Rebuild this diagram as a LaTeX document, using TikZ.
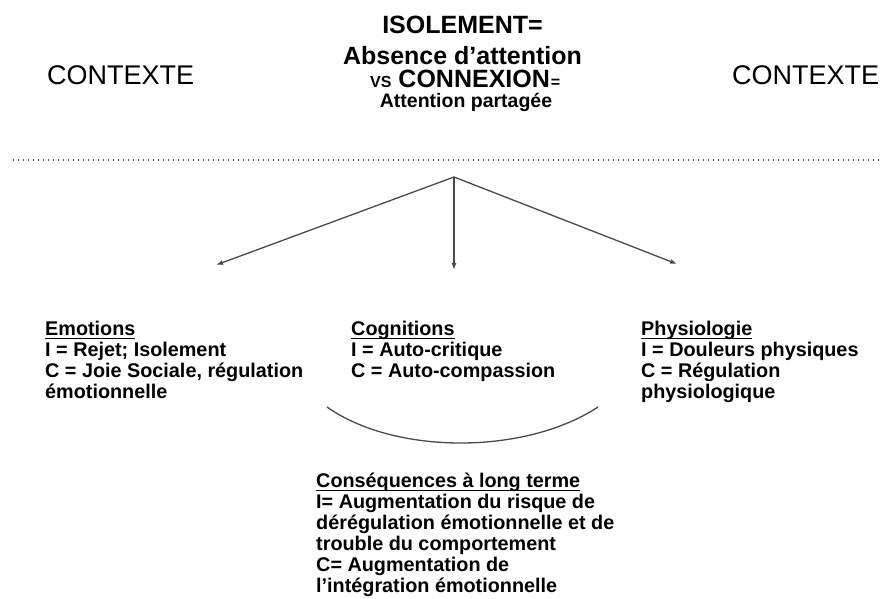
\documentclass[tikz,border=0pt]{standalone}
\usepackage{fontspec}
\setmainfont{Liberation Sans}
\newcommand\myul[1]{\setbox0\hbox{#1}\rlap{\rule[-3.8pt]{\wd0}{1.2pt}}\box0}
\usetikzlibrary{arrows.meta}
\definecolor{linegray}{HTML}{4A4A4A}
\tikzset{
  txt/.style={inner sep=0pt, anchor=base west, font=\bfseries\fontsize{19.8}{21}\selectfont},
  ttl/.style={inner sep=0pt, anchor=base, font=\bfseries\fontsize{25}{25}\selectfont},
  ctx/.style={inner sep=0pt, anchor=base west, font=\fontsize{27}{27}\selectfont},
  conn/.style={draw=linegray, line width=1.3pt, -{Latex[length=7pt,width=5pt]}},
  sep/.style={draw=linegray, line width=1.3pt, dash pattern=on 1.3pt off 3.7pt},
  arcline/.style={draw=linegray, line width=1.3pt}
}
\begin{document}
\begin{tikzpicture}[x=1pt,y=-1pt]
\useasboundingbox (0,0) rectangle (883,599);
% title
\node[ttl] (t1) at (462.5,34) {ISOLEMENT=};
\node[ttl] (t2) at (462.5,65) {Absence d’attention};
\node[inner sep=0pt, anchor=base west, font=\bfseries, text depth=0pt] (t3) at (370,88)
  {{\fontsize{16}{16}\selectfont VS}{\fontsize{25}{25}\selectfont\ CONNEXION}\kern1pt{\fontsize{16}{16}\selectfont =}};
\node[ttl, font=\bfseries\fontsize{19.5}{19.5}\selectfont, text height=12pt] (t4) at (466,108) {Attention partagée};
% context
\node[ctx] (cl) at (47,85) {CONTEXTE};
\node[ctx] (cr) at (732,85) {CONTEXTE};
% separator
\coordinate (sl) at (13,160);
\coordinate (sr) at (883,160);
\draw[sep] (sl) -- (sr);
% arrows
\coordinate (o) at (454,177);
\coordinate (el) at (216,265);
\coordinate (ec) at (454,270);
\coordinate (er) at (677,264);
\draw[conn] (o) -- (el);
\draw[conn] (o) -- (ec);
\draw[conn] (o) -- (er);
% emotions
\node[txt] (e1) at (45,335) {\myul{Emotions}};
\node[txt] (e2) at (45,356.3) {I = Rejet; Isolement};
\node[txt] (e3) at (45,377.6) {C = Joie Sociale, régulation};
\node[txt] (e4) at (45,398.9) {émotionnelle};
% cognitions
\node[txt] (c1) at (351,335) {\myul{Cognitions}};
\node[txt] (c2) at (351,356.3) {I = Auto-critique};
\node[txt] (c3) at (351,377.6) {C = Auto-compassion};
% physiologie
\node[txt] (p1) at (641,335) {\myul{Physiologie}};
\node[txt] (p2) at (641,356.3) {I = Douleurs physiques};
\node[txt] (p3) at (641,377.6) {C = Régulation};
\node[txt] (p4) at (641,398.9) {physiologique};
% arc
\coordinate (al) at (327,407);
\coordinate (ar) at (598,407);
\draw[arcline] (al) .. controls (395,455) and (525,455) .. (ar);
% consequences
\node[txt] (q1) at (316,487) {\myul{Conséquences à long terme}};
\node[txt] (q2) at (316,508) {I= Augmentation du risque de};
\node[txt] (q3) at (316,529) {dérégulation émotionnelle et de};
\node[txt] (q4) at (316,550) {trouble du comportement};
\node[txt] (q5) at (316,571) {C= Augmentation de};
\node[txt] (q6) at (316,592) {l’intégration émotionnelle};
\end{tikzpicture}
\end{document}
